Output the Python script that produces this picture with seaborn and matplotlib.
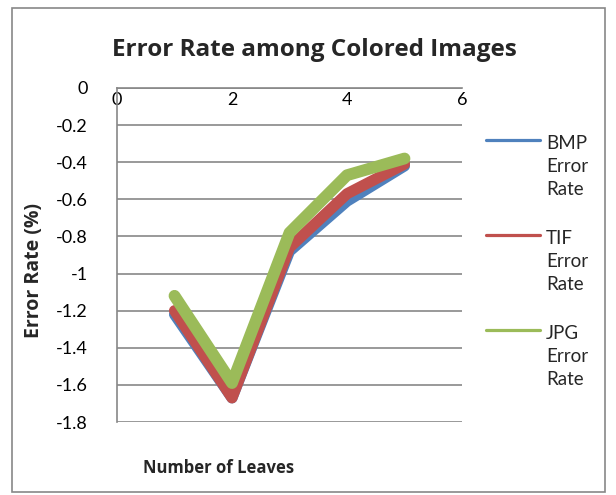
import matplotlib
matplotlib.use("Agg")
import matplotlib.pyplot as plt
import seaborn as sns
import pandas as pd
from matplotlib.patches import Rectangle
from matplotlib.lines import Line2D
from matplotlib.legend_handler import HandlerLine2D

leaves = [1, 2, 3, 4, 5]
bmp = [-1.22, -1.67, -0.88, -0.61, -0.42]
tif = [-1.20, -1.67, -0.86, -0.57, -0.41]
jpg = [-1.12, -1.59, -0.78, -0.47, -0.38]
series_names = ["BMP\nError\nRate", "TIF\nError\nRate", "JPG\nError\nRate"]
colors = ["#4F81BD", "#C0504D", "#9BBB59"]
widths = [8.0, 8.0, 8.5]

sns.set_theme(style="white")
plt.rcParams["font.family"] = ["Lato", "DejaVu Sans"]

fig = plt.figure(figsize=(6.16, 4.95), dpi=100)
ax = fig.add_axes([117/616, 1-422/495, (462-117)/616, (422-88)/495])

for vals, name, c, w in zip([bmp, tif, jpg], series_names, colors, widths):
    df = pd.DataFrame({"x": leaves, "y": vals})
    sns.lineplot(data=df, x="x", y="y", ax=ax, color=c, linewidth=w,
                 solid_capstyle="round", solid_joinstyle="round", legend=False)

ax.set_xlim(0, 6)
ax.set_ylim(-1.8, 0)
ax.set_xticks([0, 2, 4, 6])
ax.set_yticks([0, -0.2, -0.4, -0.6, -0.8, -1, -1.2, -1.4, -1.6, -1.8])
ax.set_yticklabels(["0", "-0.2", "-0.4", "-0.6", "-0.8", "-1", "-1.2", "-1.4", "-1.6", "-1.8"])
ax.spines["bottom"].set_position(("data", 0))
ax.spines["top"].set_visible(False)
ax.spines["right"].set_visible(False)
for s in ["bottom", "left"]:
    ax.spines[s].set_color("#878787")
    ax.spines[s].set_linewidth(1.2)
ax.yaxis.grid(True, color="#878787", linewidth=1.2)
ax.set_axisbelow(True)
ax.tick_params(axis="both", length=0, labelsize=13, colors="black")
ax.tick_params(axis="x", pad=3)
ax.tick_params(axis="y", pad=21)

bold = ["Open Sans", "DejaVu Sans"]
ax.set_xlabel("")
ax.set_ylabel("Error Rate (%)", fontsize=14, fontweight="bold", family=bold)
ax.yaxis.set_label_coords(-0.212, 0.455)
fig.text(219/616, 1-468/495, "Number of Leaves", fontsize=12, fontweight="bold",
         ha="center", va="center", family=bold)
fig.text(314/616, 1-50/495, "Error Rate among Colored Images", fontsize=17.5,
         fontweight="bold", ha="center", va="center", family=bold)


class TopHandler(HandlerLine2D):
    def create_artists(self, legend, orig_handle, xdescent, ydescent, width,
                       height, fontsize, trans):
        arts = super().create_artists(legend, orig_handle, xdescent, ydescent,
                                      width, height, fontsize, trans)
        for a in arts:
            yd = a.get_ydata()
            a.set_ydata([v + 1.42 * fontsize for v in yd])
        return arts


handles = [Line2D([], [], color=c, linewidth=2.3) for c in colors]
leg = ax.legend(handles, series_names, loc="upper left", bbox_to_anchor=(1.02, 0.909),
                frameon=False, fontsize=13.5, handlelength=2.9, handletextpad=0.3,
                labelspacing=1.72, handler_map={Line2D: TopHandler()})
for t in leg.get_texts():
    t.set_linespacing(1.42)

fig.patches.append(Rectangle((12/616, 1-492/495), 593/616, 484/495,
                             transform=fig.transFigure, fill=False,
                             edgecolor="#878787", linewidth=1.2))
fig.savefig("out.png", dpi=100)
